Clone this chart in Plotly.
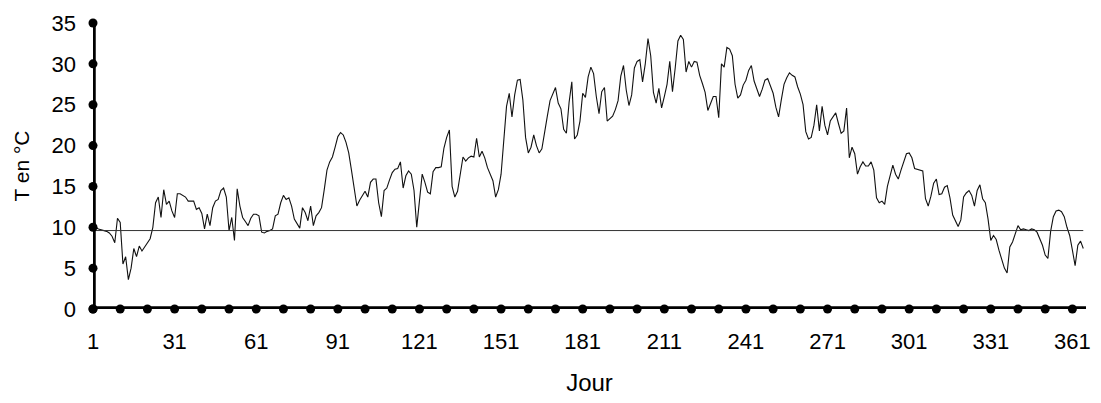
import plotly.graph_objects as go

# Daily temperature (°C), days 1..365
temp_jan_feb = [11.6, 10.0, 9.8, 9.7, 9.6, 9.5, 9.3, 8.9, 8.1, 11.1,
                10.6, 5.5, 6.4, 3.6, 5.0, 7.4, 6.4, 7.7, 7.1, 7.6,
                8.1, 8.6, 10.0, 13.0, 13.7, 11.2, 14.6, 12.8, 13.2, 12.0,
                11.2, 14.1, 14.1, 13.9, 13.7, 13.2, 13.2, 13.2, 12.2, 12.4,
                11.7, 9.8, 11.6, 10.2, 12.4, 13.2, 13.4, 14.5, 14.8, 13.7,
                9.6, 11.2, 8.4, 14.7, 12.6, 11.2, 10.7, 10.2, 11.1, 11.6,
                11.6, 11.4]
temp_mar_apr = [9.4, 9.3, 9.5, 9.6, 9.8, 11.4, 11.6, 13.0, 13.9, 13.4,
                13.6, 12.6, 11.0, 10.5, 9.9, 12.4, 11.8, 10.8, 12.6, 10.2,
                11.4, 11.8, 12.4, 14.6, 17.0, 18.0, 18.6, 19.8, 21.1, 21.6,
                21.3, 20.4, 19.1, 17.0, 14.8, 12.6, 13.3, 13.8, 14.4, 13.7,
                15.5, 15.9, 15.9, 13.0, 11.3, 14.5, 14.8, 15.8, 16.7, 17.1,
                17.2, 18.0, 14.8, 16.3, 16.9, 16.5, 14.5, 10.0]
temp_may_jun = [13.0, 16.5, 15.5, 14.3, 14.1, 16.8, 17.3, 17.3, 17.4, 19.7,
                21.0, 21.9, 15.0, 13.7, 14.4, 16.8, 18.6, 18.1, 18.5, 18.7,
                18.6, 20.9, 18.6, 19.3, 18.5, 17.3, 16.5, 15.7, 13.7, 14.6,
                16.5, 21.0, 24.8, 26.4, 23.5, 26.2, 28.0, 28.1, 25.6, 21.0,
                19.1, 19.8, 21.3, 20.0, 19.1, 19.6, 21.9, 23.6, 25.5, 26.4,
                27.1, 25.2, 24.5, 22.0, 21.5, 25.3, 27.8, 20.8, 21.3, 23.0,
                26.4, 25.9, 28.4]
temp_jul_aug = [29.6, 28.8, 26.0, 23.9, 26.6, 27.1, 23.0, 23.3, 23.6, 24.4,
                25.5, 28.5, 29.8, 26.8, 24.9, 26.2, 29.5, 30.3, 30.5, 27.8,
                30.0, 33.1, 31.0, 26.5, 25.2, 27.0, 24.6, 26.0, 27.5, 30.3,
                26.6, 29.5, 32.8, 33.5, 33.0, 29.0, 30.3, 29.6, 30.3, 30.2,
                28.6, 27.6, 26.5, 24.3, 25.2, 26.0, 26.0, 23.4, 30.0, 29.6,
                32.0, 31.8, 31.0, 27.5, 25.8, 26.2, 27.4, 28.0, 29.2, 29.8]
temp_sep_oct = [27.9, 26.8, 26.0, 26.9, 28.0, 28.2, 27.3, 26.4, 24.7, 23.5,
                25.6, 27.5, 28.3, 28.9, 28.6, 28.4, 27.2, 26.3, 25.0, 21.7,
                20.8, 21.0, 22.5, 25.0, 21.8, 24.8, 22.5, 21.3, 23.0, 23.5,
                24.0, 22.7, 21.5, 21.8, 24.6, 18.5, 19.8, 19.0, 16.5, 17.4,
                18.0, 17.5, 17.5, 18.0, 17.0, 13.6, 13.0, 13.2, 12.8, 15.0,
                16.2, 17.6, 16.5, 15.9, 17.0, 17.9, 19.0, 19.1, 18.5, 17.2,
                17.1]
temp_nov_dec = [17.0, 16.9, 13.5, 12.6, 13.8, 15.4, 15.9, 14.0, 14.1, 14.9,
                15.1, 13.6, 11.5, 10.7, 10.1, 10.9, 13.7, 14.2, 14.5, 13.9,
                12.6, 14.5, 15.2, 13.5, 13.0, 11.0, 8.4, 9.0, 8.5, 7.2,
                6.2, 5.0, 4.4, 7.6, 8.2, 9.2, 10.2, 9.7, 9.8, 9.7,
                9.6, 9.8, 9.7, 9.4, 8.6, 7.8, 6.6, 6.2, 9.5, 11.3,
                12.0, 12.1, 11.9, 11.3, 10.0, 9.0, 7.2, 5.3, 7.8, 8.3,
                7.4]

temps = temp_jan_feb + temp_mar_apr + temp_may_jun + temp_jul_aug + temp_sep_oct + temp_nov_dec
days = list(range(1, len(temps) + 1))

ref_level = 9.6  # horizontal reference line

x_label_vals = list(range(1, 362, 30))
x_label_text = [str(v) for v in x_label_vals]
x_dot_vals = list(range(1, 362, 10))
y_vals = list(range(0, 36, 5))
x_range = [1, 366]
y_range = [0, 35]

FONT = "Liberation Sans, Arial, sans-serif"

fig = go.Figure()

# data line
fig.add_trace(go.Scatter(x=days, y=temps, mode="lines",
                         line=dict(color="#111111", width=1.1),
                         hoverinfo="skip", showlegend=False))
# reference line
fig.add_trace(go.Scatter(x=[days[0], days[-1]], y=[ref_level, ref_level], mode="lines",
                         line=dict(color="#333333", width=1),
                         hoverinfo="skip", showlegend=False))
# thick axes
fig.add_trace(go.Scatter(x=[x_range[0], x_range[0], x_range[1]],
                         y=[y_range[1], y_range[0], y_range[0]],
                         mode="lines", line=dict(color="black", width=5.5),
                         cliponaxis=False, hoverinfo="skip", showlegend=False))
# round tick dots
fig.add_trace(go.Scatter(x=x_dot_vals, y=[y_range[0]] * len(x_dot_vals), mode="markers",
                         marker=dict(color="black", size=9),
                         cliponaxis=False, hoverinfo="skip", showlegend=False))
fig.add_trace(go.Scatter(x=[x_range[0]] * len(y_vals), y=y_vals, mode="markers",
                         marker=dict(color="black", size=9),
                         cliponaxis=False, hoverinfo="skip", showlegend=False))

fig.update_layout(
    width=1101, height=403,
    margin=dict(l=93, r=10.5, t=20.7, b=93.7),
    paper_bgcolor="white", plot_bgcolor="white",
    font=dict(family=FONT, color="black", size=22),
    xaxis=dict(range=x_range, showgrid=False, zeroline=False, showline=False,
               tickmode="array", tickvals=x_label_vals, ticktext=x_label_text,
               ticks="", ticklabelstandoff=17,
               tickfont=dict(family=FONT, size=22),
               title=dict(text="Jour", font=dict(family=FONT, size=24),
                          standoff=21)),
    yaxis=dict(range=y_range, showgrid=False, zeroline=False, showline=False,
               tickmode="array", tickvals=y_vals, ticks="", ticklabelstandoff=16,
               tickfont=dict(family=FONT, size=22),
               title=dict(text="T en °C", font=dict(family=FONT, size=21), standoff=16)),
)

fig.write_html("out.html")
